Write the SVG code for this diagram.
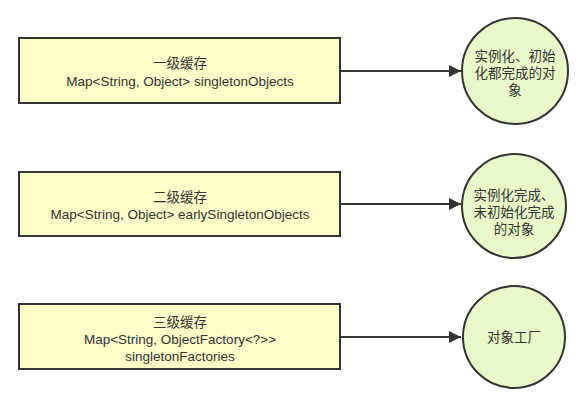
<svg xmlns="http://www.w3.org/2000/svg" width="581" height="405" viewBox="0 0 581 405">
<defs>
<style>
.box{fill:#fefec8;stroke:#333;stroke-width:2}
.circ{fill:#e8f8c8;stroke:#333;stroke-width:2}
.t{font-family:"Liberation Sans","Noto Sans CJK SC",sans-serif;font-size:13.5px;fill:#333;text-anchor:middle}
.edge{stroke:#333;stroke-width:2;fill:none}
</style>
<marker id="arr" viewBox="0 0 10 10" refX="10" refY="5" markerWidth="8" markerHeight="6" markerUnits="strokeWidth" orient="auto">
<path d="M0,0 L10,5 L0,10 z" fill="#333"/>
</marker>
</defs>
<rect width="581" height="405" fill="#fff"/>
<g id="connectors">
<line class="edge" x1="340" y1="71" x2="461" y2="71" marker-end="url(#arr)"/>
<line class="edge" x1="340" y1="204" x2="461" y2="204" marker-end="url(#arr)"/>
<line class="edge" x1="340" y1="337" x2="461" y2="337" marker-end="url(#arr)"/>
</g>
<g id="box1">
<rect class="box" x="19" y="38" width="321" height="65"/>
<text class="t" x="180" y="68">一级缓存</text>
<text class="t" x="180" y="86">Map&lt;String, Object&gt; singletonObjects</text>
</g>
<g id="box2">
<rect class="box" x="19" y="172" width="321" height="64"/>
<text class="t" x="180" y="202">二级缓存</text>
<text class="t" x="180" y="219">Map&lt;String, Object&gt; earlySingletonObjects</text>
</g>
<g id="box3">
<rect class="box" x="19" y="304" width="321" height="65"/>
<text class="t" x="180" y="327">三级缓存</text>
<text class="t" x="180" y="344">Map&lt;String, ObjectFactory&lt;?&gt;&gt;</text>
<text class="t" x="180" y="361">singletonFactories</text>
</g>
<g id="circle1">
<circle class="circ" cx="515" cy="71" r="53"/>
<text class="t" x="515" y="61">实例化、初始</text>
<text class="t" x="515" y="78">化都完成的对</text>
<text class="t" x="515" y="95">象</text>
</g>
<g id="circle2">
<circle class="circ" cx="514" cy="206" r="52"/>
<text class="t" x="514" y="200">实例化完成、</text>
<text class="t" x="514" y="217">未初始化完成</text>
<text class="t" x="514" y="234">的对象</text>
</g>
<g id="circle3">
<circle class="circ" cx="514" cy="337" r="51"/>
<text class="t" x="514" y="342">对象工厂</text>
</g>
</svg>
